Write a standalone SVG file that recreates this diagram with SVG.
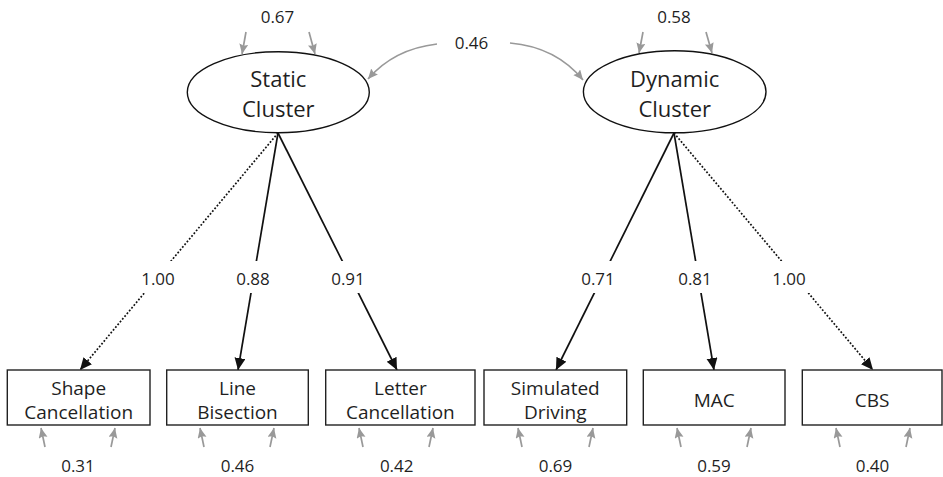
<svg xmlns="http://www.w3.org/2000/svg" width="943" height="477" viewBox="0 0 943 477">
  <style>
    text { font-family: "Open Sans", "Noto Sans", "Liberation Sans", sans-serif; fill: #1f1f1f; text-anchor: middle; }
    .num { font-size: 17px; }
    .lbl { font-size: 19px; }
    .lat { font-size: 22px; }
    .box { fill: #ffffff; stroke: #222; stroke-width: 1.4; }
    .ell { fill: #ffffff; stroke: #111; stroke-width: 1.4; }
    .load { fill: none; stroke: #111; stroke-width: 1.7; marker-end: url(#blackHead); }
    .dot { stroke-dasharray: 1.8 1.8; }
    .err { fill: none; stroke: #999; stroke-width: 1.7; marker-end: url(#grayHead); }
  </style>
  <defs>
    <marker id="blackHead" markerUnits="userSpaceOnUse" markerWidth="13" markerHeight="12" refX="12" refY="5.5" orient="auto">
      <path d="M0,0 L12,5.5 L0,11 Z" fill="#111"/>
    </marker>
    <marker id="grayHead" markerUnits="userSpaceOnUse" markerWidth="11" markerHeight="10" refX="10" refY="4.5" orient="auto">
      <path d="M0,0 L10,4.5 L0,9 L1.5,4.5 Z" fill="#999"/>
    </marker>
    <mask id="labelGaps" maskUnits="userSpaceOnUse" x="0" y="0" width="943" height="477">
      <rect x="0" y="0" width="943" height="477" fill="#fff"/>
      <rect x="133" y="261" width="50" height="32" fill="#000"/>
      <rect x="228" y="261" width="50" height="32" fill="#000"/>
      <rect x="323" y="261" width="50" height="32" fill="#000"/>
      <rect x="573" y="261" width="50" height="32" fill="#000"/>
      <rect x="670" y="261" width="50" height="32" fill="#000"/>
      <rect x="764" y="261" width="50" height="32" fill="#000"/>
    </mask>
  </defs>

  <rect x="0" y="0" width="943" height="477" fill="#ffffff"/>

  <g id="connectors">
    <g mask="url(#labelGaps)">
      <path class="load dot" d="M278,133 L80,370"/>
      <path class="load" d="M278,133 L238,370"/>
      <path class="load" d="M278,133 L397,370"/>
      <path class="load" d="M674,133 L556,370"/>
      <path class="load" d="M674,133 L714,370"/>
      <path class="load dot" d="M674,133 L873,370"/>
    </g>
    <path class="err" d="M437,44 Q394,49 368,79"/>
    <path class="err" d="M510,43 Q556,47 583,80"/>
    <path class="err" d="M246,32 L242,54"/>
    <path class="err" d="M309,32 L315,54"/>
    <path class="err" d="M643,32 L639,53"/>
    <path class="err" d="M706,32 L712,53"/>
    <path class="err" d="M45,447 L41,428"/>
    <path class="err" d="M111,447 L115,428"/>
    <path class="err" d="M204,447 L200,428"/>
    <path class="err" d="M270,447 L274,428"/>
    <path class="err" d="M363,447 L359,428"/>
    <path class="err" d="M429,447 L433,428"/>
    <path class="err" d="M522,447 L518,428"/>
    <path class="err" d="M589,447 L593,428"/>
    <path class="err" d="M681,447 L677,428"/>
    <path class="err" d="M747,447 L751,428"/>
    <path class="err" d="M840,447 L836,428"/>
    <path class="err" d="M906,447 L910,428"/>
    <text class="num" x="158" y="285">1.00</text>
    <text class="num" x="253" y="285">0.88</text>
    <text class="num" x="348" y="285">0.91</text>
    <text class="num" x="598" y="285">0.71</text>
    <text class="num" x="695" y="285">0.81</text>
    <text class="num" x="789" y="285">1.00</text>
    <text class="num" x="471.5" y="49">0.46</text>
  </g>

  <g id="static-cluster">
    <ellipse class="ell" cx="278.3" cy="92.2" rx="91" ry="40.5"/>
    <text class="lat" x="278.3" y="87">Static</text>
    <text class="lat" x="278.3" y="117">Cluster</text>
    <text class="num" x="277.5" y="23">0.67</text>
  </g>

  <g id="dynamic-cluster">
    <ellipse class="ell" cx="674.7" cy="91.8" rx="91.3" ry="41"/>
    <text class="lat" x="674.7" y="87">Dynamic</text>
    <text class="lat" x="674.7" y="117">Cluster</text>
    <text class="num" x="674" y="23">0.58</text>
  </g>

  <g id="shape-cancellation">
    <rect class="box" x="7.3" y="370" width="142.7" height="55"/>
    <text class="lbl" x="78.7" y="395">Shape</text>
    <text class="lbl" x="78.7" y="418.5">Cancellation</text>
    <text class="num" x="78" y="472">0.31</text>
  </g>

  <g id="line-bisection">
    <rect class="box" x="166.7" y="370" width="141.6" height="55"/>
    <text class="lbl" x="237.5" y="395">Line</text>
    <text class="lbl" x="237.5" y="418.5">Bisection</text>
    <text class="num" x="237.5" y="472">0.46</text>
  </g>

  <g id="letter-cancellation">
    <rect class="box" x="325.7" y="370" width="149.3" height="55"/>
    <text class="lbl" x="400.4" y="395">Letter</text>
    <text class="lbl" x="400.4" y="418.5">Cancellation</text>
    <text class="num" x="396.7" y="472">0.42</text>
  </g>

  <g id="simulated-driving">
    <rect class="box" x="484" y="370" width="142.7" height="55"/>
    <text class="lbl" x="555.3" y="395">Simulated</text>
    <text class="lbl" x="555.3" y="418.5">Driving</text>
    <text class="num" x="555.5" y="472">0.69</text>
  </g>

  <g id="mac">
    <rect class="box" x="643.3" y="370" width="141.7" height="55"/>
    <text class="lbl" x="714.2" y="406.5">MAC</text>
    <text class="num" x="714" y="472">0.59</text>
  </g>

  <g id="cbs">
    <rect class="box" x="802.3" y="370" width="139.7" height="55"/>
    <text class="lbl" x="872.2" y="406.5">CBS</text>
    <text class="num" x="872.5" y="472">0.40</text>
  </g>
</svg>
